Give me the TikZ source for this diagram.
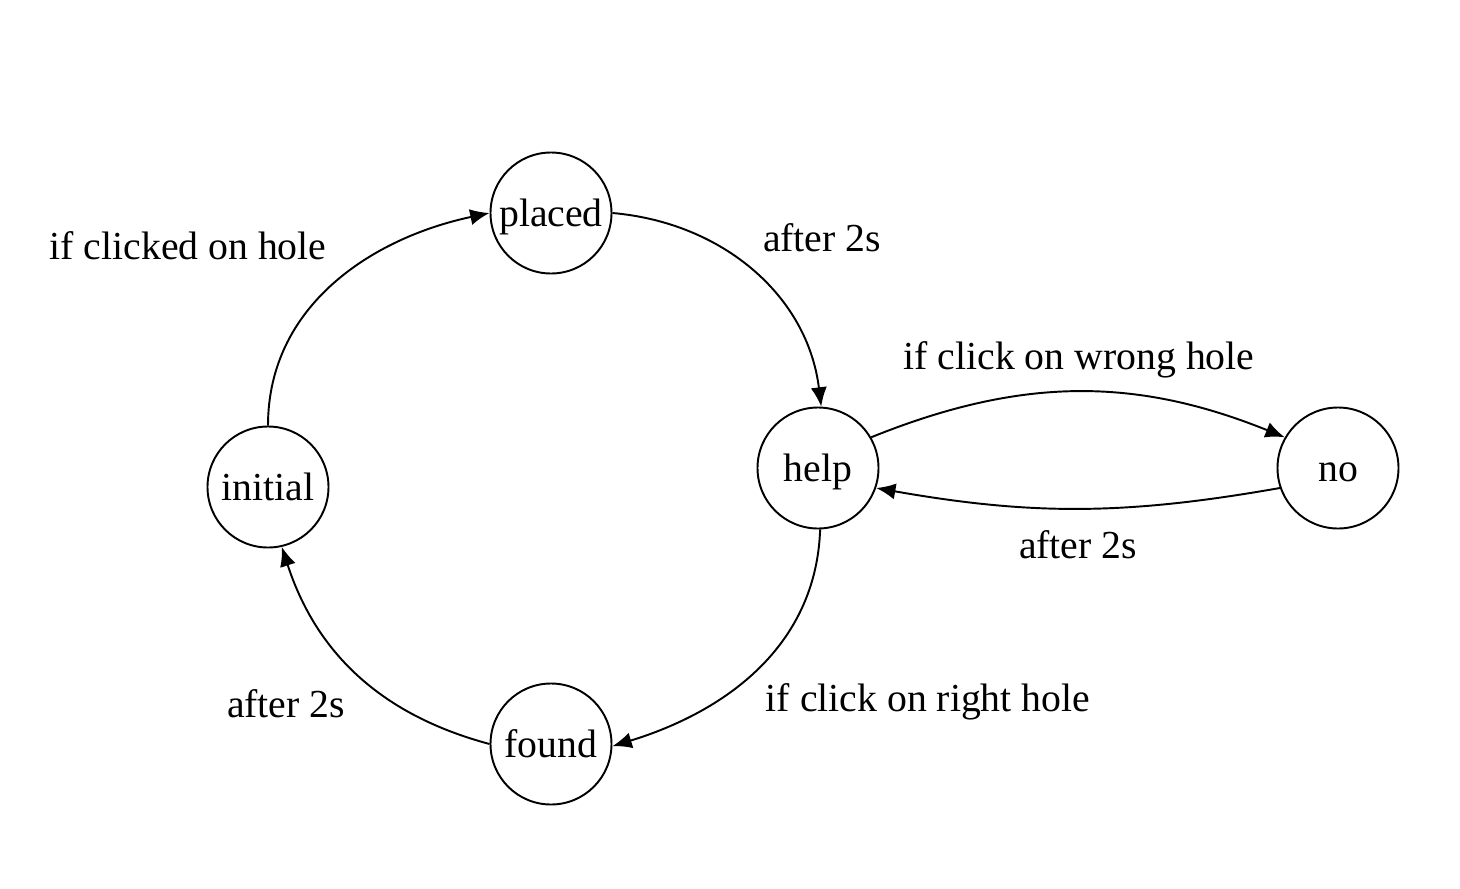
\documentclass[tikz,border=0pt]{standalone}
\usepackage{fontspec}
\setmainfont{Liberation Serif}
\usetikzlibrary{arrows.meta}

\begin{document}
\begin{tikzpicture}[every node/.style={font=\fontsize{11.3}{13.6}\selectfont},
        state/.style={circle, draw=black, minimum size=1.21cm, inner sep=1pt, text height=1.64ex, text depth=0pt},
        >={Latex[length=5.5pt, width=4.6pt]}, line width=0.55pt]
        \useasboundingbox (0,0) rectangle (14.6,8.88);

        \node[state](placed) at (5.51,6.75){placed};
        \node[state](initial) at (2.68,4.01){initial};
        \node[state](help) at (8.18,4.20){help};
        \node[state](no) at (13.38,4.20){no};
        \node[state](found) at (5.51,1.44){found};

        \node(clickedhole) at (1.88,6.42){if clicked on hole};
        \node(waitplaced) at (8.22,6.50){after 2s};
        \node(wronghole) at (10.79,5.28){if click on wrong hole};
        \node(waitno) at (10.78,3.43){after 2s};
        \node(righthole) at (9.28,1.86){if click on right hole};
        \node(waitfound) at (2.86,1.84){after 2s};

        \draw[->] (initial.north) to[out=90, in=192] (placed.west);
        \draw[->] (placed.east) to[out=-5, in=97] (help.87);
        \draw[->] (help.-88) to[out=-92, in=17] (found.-2);
        \draw[->] (found.west) to[out=165, in=-72] (initial.-77);
        \draw[->] (help.30) to[bend left=22] (no.150);
        \draw[->] (no.199) to[bend left=10] (help.341);
      \end{tikzpicture}
\end{document}
